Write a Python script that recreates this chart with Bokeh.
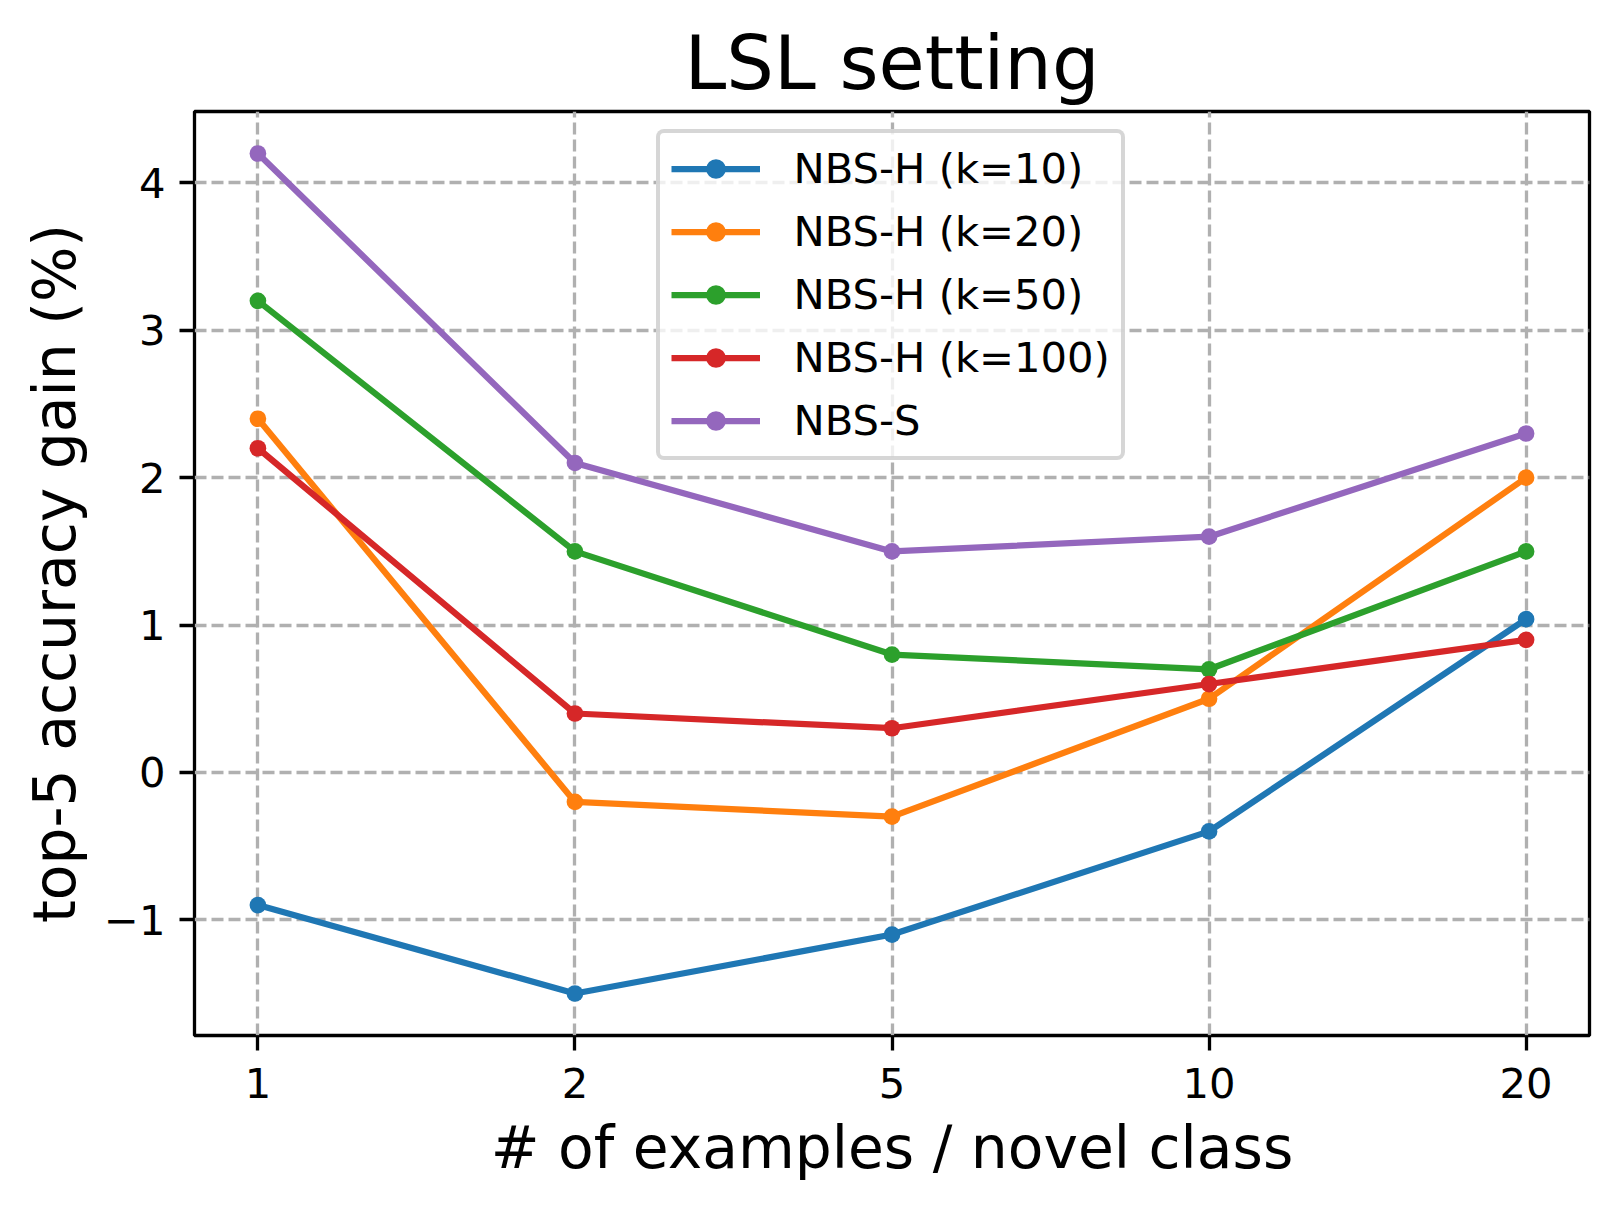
from bokeh.plotting import figure
from bokeh.models import Range1d, FixedTicker, Legend, LegendItem
from bokeh.embed import file_html
from bokeh.resources import INLINE

# ---- data ----
x_labels = ["1", "2", "5", "10", "20"]
nbs_h_k10 = [-0.9, -1.5, -1.1, -0.4, 1.04]
nbs_h_k20 = [2.4, -0.2, -0.3, 0.5, 2.0]
nbs_h_k50 = [3.2, 1.5, 0.8, 0.7, 1.5]
nbs_h_k100 = [2.2, 0.4, 0.3, 0.6, 0.9]
nbs_s = [4.2, 2.1, 1.5, 1.6, 2.3]
series_names = ["NBS-H (k=10)", "NBS-H (k=20)", "NBS-H (k=50)", "NBS-H (k=100)", "NBS-S"]
y_ticks = [-1, 0, 1, 2, 3, 4]

series = [nbs_h_k10, nbs_h_k20, nbs_h_k50, nbs_h_k100, nbs_s]
colors = ["#1f77b4", "#ff7f0e", "#2ca02c", "#d62728", "#9467bd"]

x = list(range(len(x_labels)))
all_vals = [v for s in series for v in s]
ymin, ymax = min(all_vals), max(all_vals)
ypad = 0.05 * (ymax - ymin)
xpad = 0.05 * (x[-1] - x[0])

FONT = "DejaVu Sans"

p = figure(width=1606, height=1194, output_backend="svg", toolbar_location=None,
           x_range=Range1d(x[0] - xpad, x[-1] + xpad),
           y_range=Range1d(ymin - ypad, ymax + ypad),
           min_border_left=194, min_border_right=17, min_border_top=111,
           min_border_bottom=159, title="LSL setting")
p.background_fill_color = "white"
p.border_fill_color = "white"
p.outline_line_color = "black"
p.outline_line_width = 3.3

p.title.text_font = FONT
p.title.text_font_size = "75px"
p.title.text_font_style = "normal"
p.title.text_color = "black"
p.title.align = "center"
p.title.standoff = 9

for ax in (p.xaxis[0], p.yaxis[0]):
    ax.axis_line_color = None
    ax.major_tick_out = 15
    ax.major_tick_in = 0
    ax.major_tick_line_width = 3.3
    ax.major_tick_line_color = "black"
    ax.minor_tick_line_color = None
    ax.major_label_text_font = FONT
    ax.major_label_text_font_size = "41.7px"
    ax.major_label_text_color = "black"
    ax.axis_label_text_font = FONT
    ax.axis_label_text_font_size = "58.3px"
    ax.axis_label_text_font_style = "normal"
    ax.axis_label_text_color = "black"

p.xaxis.ticker = FixedTicker(ticks=x)
p.xaxis.major_label_overrides = {i: lab for i, lab in zip(x, x_labels)}
p.xaxis.major_label_standoff = 17
p.xaxis.axis_label = "# of examples / novel class"
p.xaxis.axis_label_standoff = 13

p.yaxis.ticker = FixedTicker(ticks=y_ticks)
p.yaxis.major_label_overrides = {t: (str(t).replace("-", "\u2212")) for t in y_ticks}
p.yaxis.major_label_standoff = 14
p.yaxis.axis_label = "top-5 accuracy gain (%)"
p.yaxis.axis_label_standoff = 12

for g in (p.xgrid[0], p.ygrid[0]):
    g.grid_line_color = "#b0b0b0"
    g.grid_line_width = 3.3
    g.grid_line_dash = "12 5"

items = []
for name, vals, c in zip(series_names, series, colors):
    l = p.line(x, vals, line_color=c, line_width=6.25, line_join="round")
    s = p.scatter(x, vals, size=16.7, fill_color=c, line_color=c, line_width=0)
    items.append(LegendItem(label=name, renderers=[l, s]))

legend = Legend(items=items, location=(461.5, 574.7))
legend.padding = 11
legend.spacing = 14
legend.glyph_height = 49
legend.label_height = 49
legend.glyph_width = 89
legend.label_standoff = 34
legend.label_text_font = FONT
legend.label_text_font_size = "41.7px"
legend.label_text_color = "black"
legend.border_line_color = "#cccccc"
legend.border_line_width = 4
legend.border_line_alpha = 0.8
legend.border_radius = 8
legend.background_fill_color = "white"
legend.background_fill_alpha = 0.8
p.add_layout(legend)

open("out.html", "w").write(file_html(p, INLINE))
